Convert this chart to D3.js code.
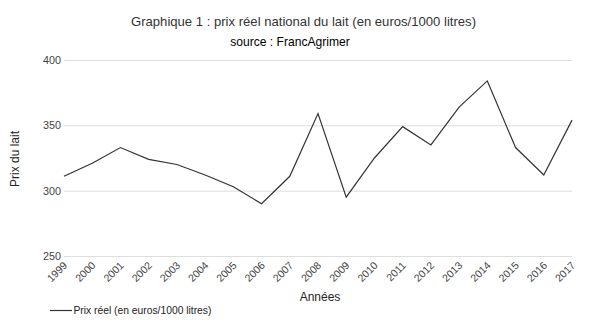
<!DOCTYPE html>
<html><head><meta charset="utf-8">
<script src="https://cdn.jsdelivr.net/npm/d3@7"></script>
<style>body{margin:0;background:#fff}svg{display:block;font-family:Arial,"Liberation Sans",sans-serif}</style>
</head><body><svg id="c" width="594" height="322"></svg>
<script>
const years = ["1999","2000","2001","2002","2003","2004","2005","2006","2007","2008","2009","2010","2011","2012","2013","2014","2015","2016","2017"];
const prices = [311,321,333,324,320,312,303,290,311,359,295,325,349,335,364,384,333,312,354];
const yTicks = [250,300,350,400];
const title = "Graphique 1 : prix réel national du lait (en euros/1000 litres)";
const subtitle = "source : FrancAgrimer";
const yLabel = "Prix du lait";
const xLabel = "Années";
const seriesName = "Prix réel (en euros/1000 litres)";

const svg = d3.select("#c");
const m = {l:64, r:572, t:60, b:256};
const x = d3.scalePoint().domain(years).range([m.l, m.r]);
const y = d3.scaleLinear().domain([250,400]).range([m.b, m.t]);

svg.append("text").attr("x",303.5).attr("y",26).attr("text-anchor","middle")
  .attr("font-size",13.1).attr("fill","#333").text(title);
svg.append("text").attr("x",290).attr("y",46).attr("text-anchor","middle")
  .attr("font-size",12.1).attr("fill","#000").text(subtitle);

// grid
svg.append("g").selectAll("line").data(yTicks).join("line")
  .attr("x1",m.l).attr("x2",m.r).attr("y1",d=>y(d)+0.5).attr("y2",d=>y(d)+0.5)
  .attr("stroke","#ddd").attr("stroke-width",1);

const ya = svg.append("g").attr("transform",`translate(${m.l},0)`)
  .call(d3.axisLeft(y).tickValues(yTicks).tickSize(0).tickPadding(3));
ya.select(".domain").remove();
ya.selectAll("text").attr("font-size",10.8).attr("fill","#444").attr("font-family","Arial,'Liberation Sans',sans-serif");

const xa = svg.append("g").attr("transform",`translate(0,${m.b})`)
  .call(d3.axisBottom(x).tickSize(0).tickPadding(0));
xa.select(".domain").remove();
xa.selectAll("text").attr("font-size",10.5).attr("fill","#444").attr("font-family","Arial,'Liberation Sans',sans-serif")
  .attr("text-anchor","end").attr("dy",0).attr("transform","translate(3.5,10) rotate(-45)");

svg.append("text").attr("transform","translate(18.5,159) rotate(-90)").attr("text-anchor","middle")
  .attr("font-size",12).attr("fill","#222").text(yLabel);
svg.append("text").attr("x",320).attr("y",301).attr("text-anchor","middle")
  .attr("font-size",12).attr("fill","#222").text(xLabel);

svg.append("path").datum(prices)
  .attr("d", d3.line().x((d,i)=>x(years[i])).y(d=>y(d)))
  .attr("fill","none").attr("stroke","#333").attr("stroke-width",1.2);

svg.append("line").attr("x1",50).attr("x2",72).attr("y1",310.5).attr("y2",310.5)
  .attr("stroke","#333").attr("stroke-width",1.2);
svg.append("text").attr("x",73.5).attr("y",314).attr("font-size",10.3).attr("fill","#222").text(seriesName);
</script></body></html>
